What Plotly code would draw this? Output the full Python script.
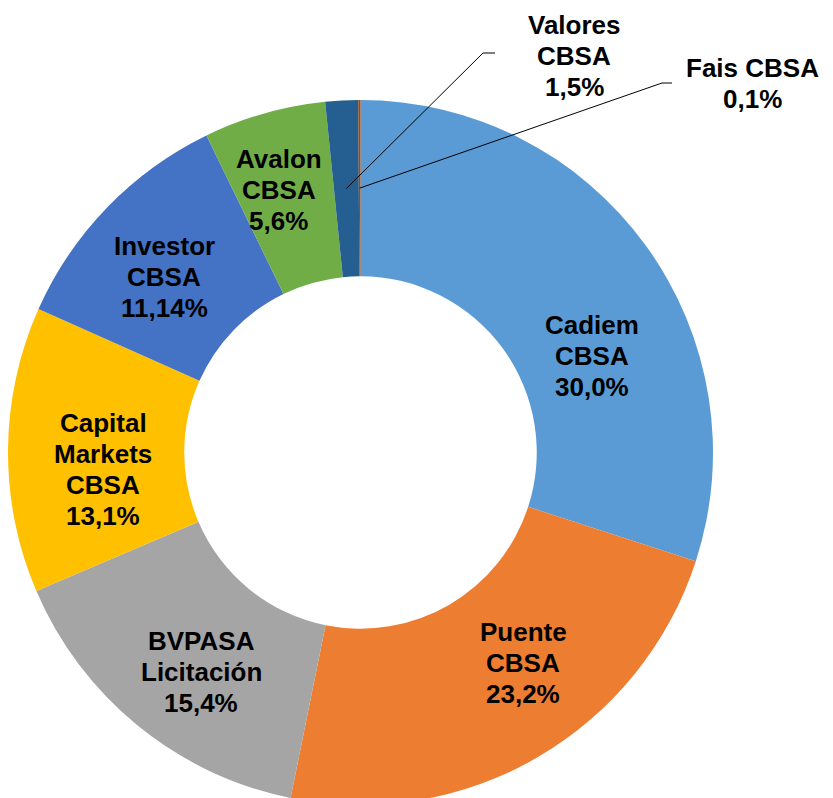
import math
import plotly.graph_objects as go

categories = ["Cadiem CBSA", "Puente CBSA", "BVPASA Licitación", "Capital Markets CBSA",
              "Investor CBSA", "Avalon CBSA", "Valores CBSA", "Fais CBSA"]
shares = [30.0, 23.2, 15.4, 13.1, 11.14, 5.6, 1.5, 0.1]
colors = ["#5B9BD5", "#ED7D31", "#A5A5A5", "#FFC000", "#4472C4", "#70AD47", "#255E91", "#9E480E"]

W, H = 833, 798
PAGE = 8                              # body margin of the html page
CX, CY, R = 360.5, 452.5, 352.5       # pie centre / radius, screen px
LINE_H = 31

def fmt(v):
    s = f"{v:.2f}".rstrip("0")
    if s.endswith("."):
        s += "0"
    return s.replace(".", ",") + "%"

def lines_of(name, v):
    words = [name] if name == "Fais CBSA" else name.split(" ")
    return words + [fmt(v)]

def px2paper(x, y):
    return (x - PAGE) / W, 1 - (y - PAGE) / H

def polar(theta, rfrac):
    t = math.radians(theta)
    return CX + rfrac * R * math.sin(t), CY - rfrac * R * math.cos(t)

x0, y1 = px2paper(CX - R, CY - R)
x1, y0 = px2paper(CX + R, CY + R)
fig = go.Figure(go.Pie(
    labels=categories,
    values=shares,
    sort=False,
    direction="clockwise",
    rotation=0,
    hole=0.5,
    marker=dict(colors=colors, line=dict(width=0)),
    textinfo="none",
    hoverinfo="label+percent",
    domain=dict(x=[max(x0, 0), x1], y=[max(y0, 0), y1]),
))

# mid angle of each slice (clockwise from 12 o'clock)
total = sum(shares)
mids = []
acc = 0
for v in shares:
    mids.append((acc + v / 2) / total * 360)
    acc += v

font = dict(family="Arial, Liberation Sans, sans-serif", size=26, color="black", weight="bold")
# label placement: (angle offset from slice middle, radius fraction)
placement = {"Cadiem CBSA": (13.4, 0.713), "Puente CBSA": (-7.5, 0.754),
             "BVPASA Licitación": (-3.2, 0.770), "Capital Markets CBSA": (-4.2, 0.732),
             "Investor CBSA": (-2.3, 0.747), "Avalon CBSA": (-1.4, 0.781)}
# outside labels: label centre, elbow, end of leader (screen px)
outside = {"Valores CBSA": ((574, 56), (483, 53), (495, 53)),
           "Fais CBSA": ((752, 83), (662, 83), (672, 83))}

annotations = []
shapes = []
for name, v, ang in zip(categories, shares, mids):
    lines = lines_of(name, v)
    if name in outside:
        lab, elbow, end = outside[name]
        p0 = px2paper(*polar(ang, 0.75))
        p1 = px2paper(*elbow)
        p2 = px2paper(*end)
        shapes.append(dict(type="path", xref="paper", yref="paper",
                           path=f"M {p0[0]},{p0[1]} L {p1[0]},{p1[1]} L {p2[0]},{p2[1]}",
                           line=dict(color="black", width=1)))
        lx, ly = lab
    else:
        da, rf = placement[name]
        lx, ly = polar(ang + da, rf)
    n = len(lines)
    for i, ln in enumerate(lines):
        x, y = px2paper(lx, ly + (i - (n - 1) / 2) * LINE_H)
        annotations.append(dict(x=x, y=y, xref="paper", yref="paper", text=ln,
                                showarrow=False, xanchor="center", yanchor="middle",
                                font=font))

fig.update_layout(
    width=W, height=H,
    margin=dict(l=0, r=0, t=0, b=0),
    showlegend=False,
    paper_bgcolor="white",
    annotations=annotations,
    shapes=shapes,
)

fig.write_html("out.html")
